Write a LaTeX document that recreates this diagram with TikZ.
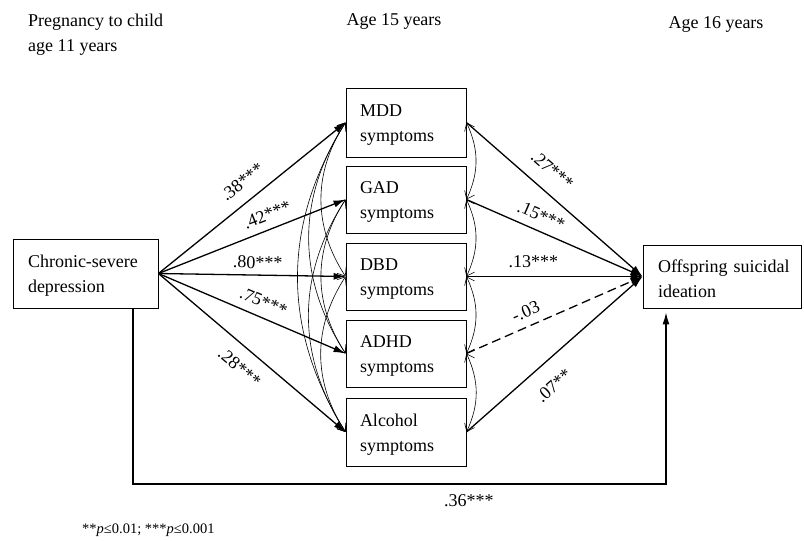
\documentclass[tikz,border=0pt]{standalone}
\usepackage{fontspec}
\setmainfont{Liberation Serif}
\usetikzlibrary{arrows.meta}
\begin{document}
\begin{tikzpicture}[x=1pt,y=-1pt,
  font=\fontsize{18}{25}\selectfont,
  box/.style={draw, line width=0.9pt, inner xsep=14pt, inner ysep=0pt, align=left},
  eff/.style={line width=1.3pt, -{Latex[length=12pt,width=7pt]}},
  cov/.style={line width=0.6pt, {Straight Barb[length=7pt,width=11pt]}-{Straight Barb[length=7pt,width=11pt]}},
  lab/.style={inner sep=0pt},
  coef/.style={inner xsep=0pt, sloped}
]
\useasboundingbox (0,0) rectangle (804,541);

% headers
\node[lab, anchor=north west, align=left] (h1) at (28,13.5) {Pregnancy to child\\age 11 years};
\node[lab, anchor=base] (h2) at (394,25.5) {Age 15 years};
\node[lab, anchor=base] (h3) at (716,28.5) {Age 16 years};

% boxes
\node[box, inner xsep=15pt, text width=115pt, minimum height=69pt] (chr) at (85.5,273.5) {\rule{0pt}{16pt}Chronic-severe\\depression};
\node[box, text width=92pt, minimum height=69pt] (mdd) at (406,122.5) {\rule{0pt}{17pt}MDD\\symptoms};
\node[box, text width=92pt, minimum height=67pt] (gad) at (406,199.5) {\rule{0pt}{17pt}GAD\\symptoms};
\node[box, text width=92pt, minimum height=67pt] (dbd) at (406,276.5) {\rule{0pt}{17pt}DBD\\symptoms};
\node[box, text width=92pt, minimum height=67pt] (adhd) at (406,353.5) {\rule{0pt}{17pt}ADHD\\symptoms};
\node[box, text width=92pt, minimum height=68pt] (alc) at (406,432) {\rule{0pt}{17pt}Alcohol\\symptoms};
\node[box, inner xsep=15pt, text width=128pt, minimum height=63pt] (off) at (722,276.5) {\rule{0pt}{17pt}\mbox{Offspring suicidal}\\ideation};

% left paths
\draw[eff] (chr.east) -- node[coef, pos=0.51, above, inner ysep=12pt] {.38***} (mdd.west);
\draw[eff] (chr.east) -- node[coef, pos=0.61, above, inner ysep=8pt] {.42***} (gad.west);
\draw[eff] (chr.east) -- node[coef, pos=0.53, above, inner ysep=6pt] {.80***} (dbd.west);
\draw[eff] (chr.east) -- node[coef, pos=0.53, above, inner ysep=8.5pt] {.75***} (adhd.west);
\draw[eff] (chr.east) -- node[coef, pos=0.50, below, inner ysep=12.5pt] {.28***} (alc.west);

% right paths
\draw[eff] (mdd.east) -- node[coef, pos=0.41, above, inner ysep=14pt] {.27***} (off.west);
\draw[eff] (gad.east) -- node[coef, pos=0.39, above, inner ysep=8.5pt] {.15***} (off.west);
\draw[eff] (dbd.east) -- node[coef, pos=0.38, above, inner ysep=8pt] {.13***} (off.west);
\draw[eff, dash pattern=on 9pt off 5pt] (adhd.east) -- node[coef, pos=0.37, above, inner ysep=8pt] {-.03} (off.west);
\draw[eff] (alc.east) -- node[coef, pos=0.41, below, inner ysep=16pt] {.07**} (off.west);

% direct path
\coordinate (b1) at (133,484);
\coordinate (b2) at (666,484);
\draw[eff] (chr.south -| b1) -- (b1) -- node[lab, pos=0.63, below, inner ysep=10pt] {.36***} (b2) -- ([yshift=-4pt]off.south -| b2);

% covariances, left side
\draw[cov] (mdd.west) to[bend right=33] (dbd.west);
\draw[cov] (mdd.west) to[bend right=33] (adhd.west);
\draw[cov] (mdd.west) to[bend right=32] (alc.west);
\draw[cov] (gad.west) to[bend right=33] (adhd.west);
\draw[cov] (gad.west) to[bend right=33] (alc.west);
\draw[cov] (dbd.west) to[bend right=33] (alc.west);

% covariances, right side
\draw[cov] (mdd.east) to[bend left=25] (gad.east);
\draw[cov] (gad.east) to[bend left=25] (dbd.east);
\draw[cov] (dbd.east) to[bend left=25] (adhd.east);
\draw[cov] (adhd.east) to[bend left=25] (alc.east);

% footnote
\node[lab, anchor=base west, font=\fontsize{14.5}{17}\selectfont] (fn) at (82,533) {**\textit{p}≤0.01; ***\textit{p}≤0.001};
\end{tikzpicture}
\end{document}
